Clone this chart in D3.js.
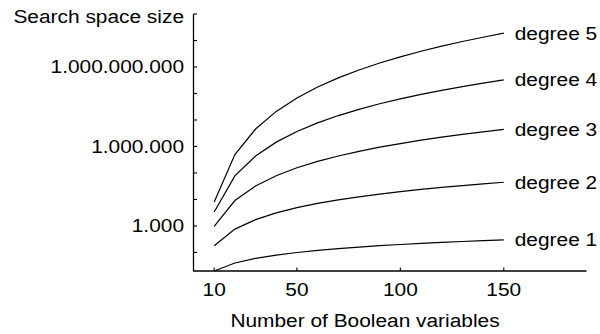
<!DOCTYPE html>
<html><head><meta charset="utf-8">
<script src="https://cdn.jsdelivr.net/npm/d3@7"></script>
<style>
html,body{margin:0;padding:0;background:#fff;}
svg text{font-family:"Liberation Sans",Arial,Helvetica,sans-serif;font-size:18px;fill:#000;}
</style></head>
<body><svg id="c" width="600" height="334"></svg>
<script>
const nVars = [10,20,30,40,50,60,70,80,90,100,110,120,130,140,150];
const degree1 = [20,40,60,80,100,120,140,160,180,200,220,240,260,280,300];
const degree2 = [180,760,1740,3120,4900,7080,9660,12600,16000,19800,24000,28600,33500,38900,44700];
const degree3 = [960,9120,32500,79000,157000,274000,438000,657000,940000,1290000,1730000,2250000,2860000,3580000,4410000];
const degree4 = [3360,77500,438000,1460000,3680000,7800000,14700000,25300000,40900000,62700000,92400000,131000000,182000000,245000000,324000000];
const degree5 = [8060,496000,4560000,21100000,67800000,175000000,387000000,769000000,1410000000,2410000000,3920000000,6100000000,9160000000,13300000000,18900000000];
const seriesNames = ["degree 1","degree 2","degree 3","degree 4","degree 5"];
const xTicks = [10,50,100,150];
const yMinorTicks = [1e2,1e3,1e4,1e5,1e6,1e7,1e8,1e9,1e10,1e11];
const yLabelValues = [1e3,1e6,1e9];
const yLabelTexts = ["1.000","1.000.000","1.000.000.000"];
const xTitle = "Number of Boolean variables";
const yTitle = "Search space size";

const series = [degree1,degree2,degree3,degree4,degree5];
const SX = 1.16;
const svg = d3.select("#c");
const x = d3.scaleLinear().domain([0,190]).range([193.5,586.5]);
const y = d3.scaleLog().domain([20,1e11]).range([271,14]);

function txt(px,py,s,anchor){
  const g = svg.append("g").attr("transform",`translate(${px},${py}) scale(${SX},1)`);
  g.append("text").attr("text-anchor",anchor).text(s);
}

// axes
const ax = svg.append("g").attr("stroke","#000").attr("stroke-width",1.3).attr("fill","none");
ax.append("line").attr("x1",x(0)).attr("x2",x(0)).attr("y1",y(1e11)).attr("y2",y(20)+0.6);
ax.append("line").attr("x1",x(0)).attr("x2",x(190)).attr("y1",y(20)).attr("y2",y(20));
yMinorTicks.forEach(v=>{
  ax.append("line").attr("x1",x(0)).attr("x2",x(0)+3.5).attr("y1",y(v)).attr("y2",y(v)).attr("stroke-width",1.1);
});
xTicks.forEach(v=>{
  ax.append("line").attr("x1",x(v)).attr("x2",x(v)).attr("y1",y(20)).attr("y2",y(20)-3.5).attr("stroke-width",1.1);
});

// tick labels
yLabelValues.forEach((v,i)=>txt(184,y(v)+6.5,yLabelTexts[i],"end"));
xTicks.forEach(v=>txt(x(v),296,String(v),"middle"));
txt(365,327,xTitle,"middle");
txt(184,23,yTitle,"end");

// lines
const line = d3.line().x((d,i)=>x(nVars[i])).y(d=>y(d));
series.forEach((s,k)=>{
  svg.append("path").attr("d",line(s)).attr("fill","none").attr("stroke","#000").attr("stroke-width",1.2);
  txt(x(nVars[nVars.length-1])+11, y(s[s.length-1])+6.5, seriesNames[k], "start");
});
</script></body></html>
